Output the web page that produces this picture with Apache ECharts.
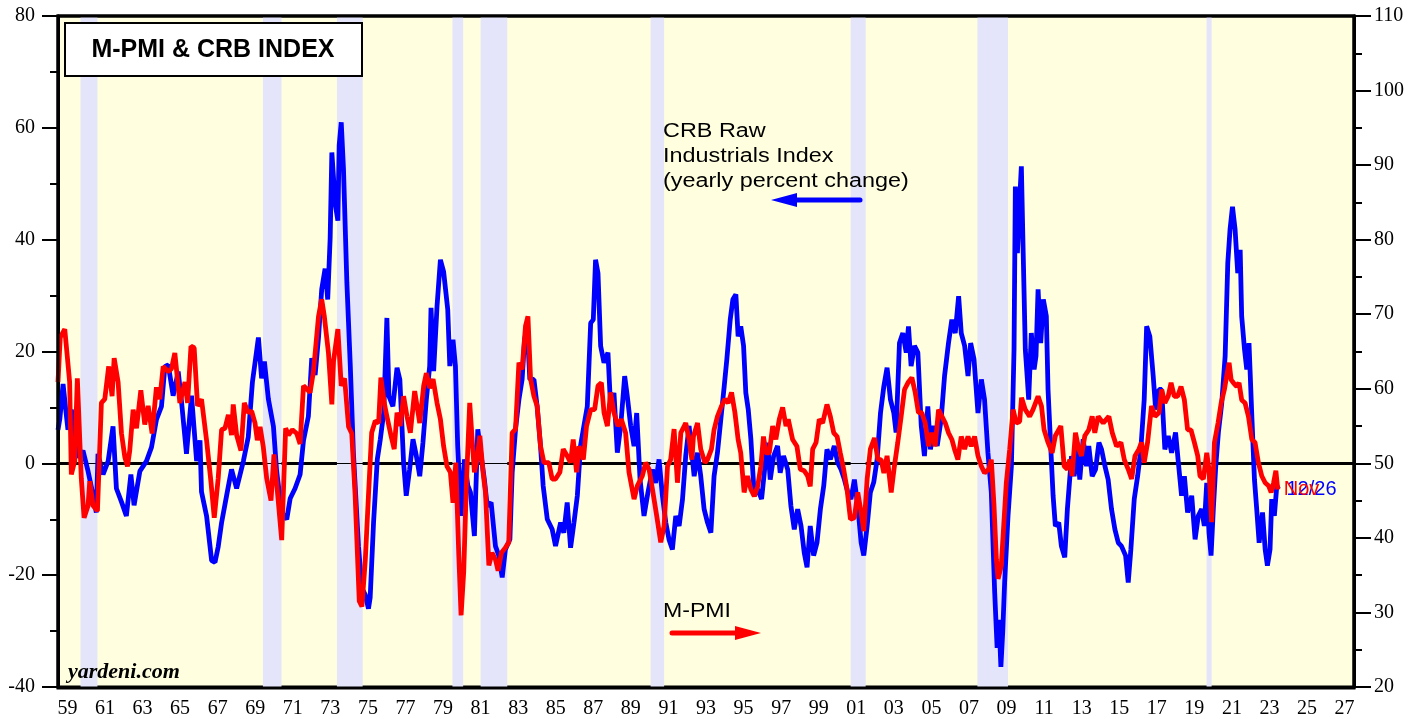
<!DOCTYPE html>
<html lang="en">
<head>
    <meta charset="UTF-8">
    <title>M-PMI & CRB INDEX</title>
    <style>
        html, body { margin: 0; padding: 0; background: #fff; }
        #main { width: 1424px; height: 719px; }
    </style>
    <script src="https://cdn.jsdelivr.net/npm/echarts@6/dist/echarts.min.js"></script>
</head>
<body>
<div id="main"></div>
<script>
    // x axis tick labels (every year, label on odd years)
    var yearLabels = [];
    for (var y = 1959; y <= 2027; y++) { yearLabels.push(String(y % 100).padStart(2, '0')); }

    // recessions (shaded)
    var recessionStarts = [1960.2, 1969.91, 1973.85, 1980.0, 1981.5, 1990.55, 2001.2, 2007.95, 2020.15];
    var recessionEnds   = [1961.1, 1970.9, 1975.22, 1980.57, 1982.92, 1991.27, 2002.0, 2009.58, 2020.42];

    // CRB raw industrials, yearly % change (left axis)
    var crbYears = [1959.0, 1959.1, 1959.27, 1959.4, 1959.53, 1959.71, 1959.98, 1960.15, 1960.33, 1960.6, 1960.87, 1961.04, 1961.13, 1961.4, 1961.67, 1961.93, 1962.11, 1962.38, 1962.64, 1962.88, 1963.05, 1963.36, 1963.71, 1963.98, 1964.24, 1964.51, 1964.69, 1964.87, 1965.13, 1965.4, 1965.58, 1965.84, 1966.11, 1966.38, 1966.56, 1966.64, 1966.91, 1967.18, 1967.36, 1967.53, 1967.71, 1967.98, 1968.24, 1968.51, 1968.87, 1969.13, 1969.35, 1969.67, 1969.84, 1969.99, 1970.2, 1970.47, 1970.64, 1970.91, 1971.18, 1971.36, 1971.62, 1971.89, 1972.07, 1972.33, 1972.51, 1972.69, 1972.87, 1973.04, 1973.22, 1973.36, 1973.49, 1973.58, 1973.76, 1973.9, 1973.97, 1974.08, 1974.2, 1974.38, 1974.56, 1974.73, 1975.0, 1975.18, 1975.36, 1975.53,
        1975.62, 1975.8, 1976.0, 1976.16, 1976.34, 1976.51, 1976.62, 1976.83, 1977.05, 1977.2, 1977.4, 1977.54, 1977.72, 1977.9, 1978.08, 1978.26, 1978.43, 1978.61, 1978.79, 1978.86, 1979.0, 1979.18, 1979.36, 1979.53, 1979.75, 1979.86, 1980.03, 1980.16, 1980.28, 1980.46, 1980.64, 1980.82, 1980.96, 1981.17, 1981.35, 1981.53, 1981.7, 1981.85, 1982.06, 1982.29, 1982.47, 1982.65, 1982.82, 1983.06, 1983.18, 1983.36, 1983.54, 1983.71, 1983.84, 1983.98, 1984.12, 1984.34, 1984.51, 1984.69, 1984.83, 1985.05, 1985.31, 1985.49, 1985.76, 1985.93, 1986.11, 1986.29, 1986.47, 1986.65, 1986.82, 1987.0, 1987.18, 1987.36, 1987.5, 1987.62, 1987.75, 1987.89, 1988.07, 1988.28, 1988.42, 1988.6, 1988.78, 1988.96, 1989.17, 1989.31, 1989.49, 1989.67, 1989.81, 1989.99, 1990.2, 1990.41, 1990.65, 1990.82, 1991.0, 1991.18, 1991.36, 1991.53, 1991.71, 1991.89, 1992.07, 1992.25, 1992.42, 1992.6,
        1992.87, 1993.05, 1993.22, 1993.4, 1993.58, 1993.76, 1993.93, 1994.11, 1994.29, 1994.47, 1994.61, 1994.79, 1994.93, 1995.09, 1995.21, 1995.35, 1995.5, 1995.62, 1995.75, 1995.89, 1996.07, 1996.25, 1996.46, 1996.64, 1996.78, 1996.92, 1997.1, 1997.31, 1997.45, 1997.63, 1997.85, 1998.02, 1998.2, 1998.38, 1998.56, 1998.73, 1998.88, 1999.05, 1999.23, 1999.41, 1999.59, 1999.77, 1999.94, 2000.12, 2000.33, 2000.51, 2000.69, 2000.87, 2001.05, 2001.22, 2001.4, 2001.58, 2001.76, 2001.9, 2002.08, 2002.25, 2002.43, 2002.61, 2002.79, 2002.97, 2003.14, 2003.32, 2003.5, 2003.62, 2003.8, 2003.98, 2004.16, 2004.28, 2004.42, 2004.6, 2004.78, 2004.96, 2005.13, 2005.31, 2005.45, 2005.63, 2005.81, 2006.02, 2006.2, 2006.41, 2006.59, 2006.77, 2006.95, 2007.09, 2007.27, 2007.45, 2007.59, 2007.77, 2007.98, 2008.16, 2008.33, 2008.51, 2008.69, 2008.87, 2009.0, 2009.1, 2009.2, 2009.3,
        2009.4, 2009.58, 2009.76, 2009.9, 2009.97, 2010.08, 2010.2, 2010.29, 2010.38, 2010.5, 2010.61, 2010.68, 2010.82, 2010.97, 2011.07, 2011.18, 2011.32, 2011.46, 2011.62, 2011.71, 2011.86, 2011.98, 2012.1, 2012.28, 2012.42, 2012.6, 2012.74, 2012.96, 2013.1, 2013.28, 2013.4, 2013.58, 2013.76, 2013.88, 2014.06, 2014.24, 2014.42, 2014.56, 2014.74, 2014.91, 2015.09, 2015.27, 2015.45, 2015.62, 2015.84, 2015.98, 2016.12, 2016.3, 2016.48, 2016.65, 2016.83, 2016.96, 2017.13, 2017.31, 2017.44, 2017.62, 2017.76, 2017.93, 2018.11, 2018.29, 2018.5, 2018.65, 2018.82, 2018.97, 2019.14, 2019.36, 2019.54, 2019.71, 2019.89, 2020.03, 2020.16, 2020.28, 2020.39, 2020.51, 2020.64, 2020.78, 2020.96, 2021.14, 2021.28, 2021.4, 2021.53, 2021.67, 2021.81, 2021.94, 2022.02, 2022.17, 2022.29, 2022.41, 2022.56, 2022.7, 2022.82, 2022.95, 2023.13, 2023.27, 2023.39, 2023.53, 2023.62, 2023.76, 2023.89, 2023.98];
    var crbValues = [6, 8, 14.2, 10, 6, 9.6, 2.9, 1, 2.3, -1.4, -5.7, -8.8, 1.7, -2, 0.4, 6.6, -4.5, -6.9, -9.4, -2, -7.5, -1.4, 0.4, 2.9, 7.8, 10.2, 17.3, 17.6, 12.1, 16.4, 10.9, 1.7, 12.1, 0.4, 4.1, -5.1, -9.4, -17.4, -17.7, -14.9, -10.6, -5.7, -1.1, -4.5, 0.4, 4.7, 14.5, 22.5, 15.2, 18.2, 11.5, 6.6, -1.4, -8.8, -10, -6.3, -4.5, -2, 4.1, 8.4, 18.8, 15.8, 22.5, 31.1, 34.8, 29.3, 40.3, 55.6, 46.4, 43.4, 56.9, 61, 52.6, 32.3, 17.6, 1.7, -14.9, -22.3, -23.5, -26,
        -24, -10.6, 0.7, 4.3, 9, 26, 12, 10.2, 17.1, 15, 0.1, -5.8, -1.1, 4.3, 1.3, -2.3, 3.7, 11.4, 17.4, 27.8, 16.5, 28.1, 36.4, 34.3, 27.5, 17.4, 22.1, 17.4, 3.1, -9.4, 0.7, -4, -5.2, -13, 6.1, 1.3, -2.9, -7.6, -7, -14.8, -16.5, -20.4, -15.4, -13.6, -1.7, 6.1, 11.4, 15, 22.1, 24.5, 15, 15, 10.2, 3.1, -4, -10, -11.8, -14.8, -10.6, -12.4, -7, -15.1, -10.6, -5.8, 3.1, 6.7, 10.2, 25.1, 25.7, 36.4, 34, 21, 18, 19.8, 10.2, 12.6, 1.9, 6.7, 15.6, 12, 6.7, 3.1, 9, -2.9, -9.4, -5.2, -1.1, -3.5, 0.7, -5.8, -10.6, -13.6, -15.4, -9.4, -11.2, -6.4, 1.3, 6.7,
        -2.3, 1.9, -2.3, -8.2, -10.6, -12.4, -2.3, 1.9, 7.9, 13.8, 18.6, 25.7, 29.3, 30.2, 22.7, 24.5, 21, 12.6, 9.6, 4.3, -5.8, -4.6, -6.4, -0.5, 3.7, -2.9, 1.3, 3.1, -1.7, 1.3, -1.1, -7.6, -11.8, -8.2, -11.2, -16, -18.6, -11.2, -16.5, -14.2, -8.2, -4, 2.5, 0.7, 3.1, 0.1, -1.1, -2.9, -5.2, -6.4, -2.9, -7.6, -14.2, -16.5, -11.2, -5.2, -3.4, 0.7, 9, 13.8, 17.1, 11.4, 9, 5.5, 21.5, 23.3, 19.8, 24.5, 17.4, 21, 19.8, 6.7, 1.3, 10.2, 2.5, 6.7, 3.1, 7.9, 15.6, 21.5, 25.7, 23.3, 29.9, 23.3, 21, 15.6, 21.5, 18.6, 9, 15, 11.4, 1.9, -5.2, -23.1, -33, -28, -36.4, -30,
        -21.3, -9.4, -0.5, 20.4, 49.5, 37.6, 47.1, 53.1, 38.8, 20.4, 15, 11.4, 23.3, 16.8, 19.2, 31.1, 21.5, 29.3, 26.3, 13.2, 2.5, -5.8, -11.2, -10.6, -14.8, -16.8, -8.2, 1.3, -2.3, 2.5, -2.9, 4.3, -0.5, 3.1, -2.3, -1.1, 3.7, 2.5, -0.5, -2.9, -8.2, -11.8, -14.2, -14.8, -16.5, -21.3, -15.4, -6.4, -2.3, 2.5, 11.4, 24.5, 22.7, 15.6, 9.6, 13.2, 13.2, 2.5, 4.9, 1.9, 5.5, 0.1, -5.8, -2.3, -8.8, -5.8, -13.6, -9.4, -8.2, -11.2, -3.5, -12.4, -16.5, -8.2, -0.5, 5.5, 10.8, 19.2, 35.8, 41.8, 45.9, 41.8, 34, 38.2, 26.3, 20.4, 16.8, 21.5, 8.5, -2.9, -8.2, -14.2, -8.8, -15.4, -18.3, -15.4, -6.4, -9.4, -4, -4.6];

    // ISM manufacturing PMI (right axis)
    var pmiYears = [1959.0, 1959.12, 1959.36, 1959.62, 1959.71, 1959.89, 1960.03, 1960.24, 1960.39, 1960.6, 1960.69, 1960.87, 1961.1, 1961.31, 1961.49, 1961.7, 1961.88, 1961.99, 1962.2, 1962.38, 1962.56, 1962.7, 1962.82, 1963.0, 1963.18, 1963.41, 1963.62, 1963.8, 1964.01, 1964.24, 1964.42, 1964.6, 1964.87, 1965.04, 1965.22, 1965.49, 1965.76, 1965.9, 1966.08, 1966.25, 1966.43, 1966.64, 1966.91, 1967.14, 1967.32, 1967.53, 1967.71, 1967.89, 1968.07, 1968.24, 1968.33, 1968.51, 1968.74, 1968.92, 1969.13, 1969.31, 1969.49, 1969.61, 1969.76, 1969.93, 1970.11, 1970.34, 1970.5, 1970.7, 1970.91, 1971.12, 1971.27, 1971.48, 1971.71, 1971.89, 1972.07, 1972.24, 1972.42, 1972.6, 1972.87, 1973.04, 1973.18, 1973.4, 1973.58, 1973.67, 1973.9, 1974.08, 1974.26, 1974.47, 1974.64, 1974.82, 1975.04, 1975.18, 1975.36, 1975.53,
        1975.7, 1975.89, 1976.07, 1976.19, 1976.37, 1976.51, 1976.73, 1976.9, 1977.05, 1977.22, 1977.4, 1977.58, 1977.76, 1977.99, 1978.26, 1978.47, 1978.61, 1978.79, 1978.97, 1979.18, 1979.36, 1979.53, 1979.71, 1979.89, 1980.03, 1980.18, 1980.34, 1980.46, 1980.6, 1980.74, 1980.92, 1981.05, 1981.17, 1981.31, 1981.46, 1981.63, 1981.76, 1981.94, 1982.11, 1982.29, 1982.43, 1982.61, 1982.82, 1983.0, 1983.18, 1983.36, 1983.54, 1983.71, 1983.89, 1984.02, 1984.16, 1984.34, 1984.51, 1984.69, 1984.87, 1985.13, 1985.31, 1985.49, 1985.72, 1985.9, 1986.11, 1986.29, 1986.43, 1986.61, 1986.74, 1986.97, 1987.14, 1987.36, 1987.57, 1987.75, 1987.93, 1988.07, 1988.25, 1988.42, 1988.6, 1988.81, 1988.99, 1989.22, 1989.4, 1989.67, 1989.85, 1990.11, 1990.29, 1990.47, 1990.65, 1990.88, 1991.09, 1991.27, 1991.45, 1991.62, 1991.8, 1991.98, 1992.16, 1992.42, 1992.6,
        1992.75, 1992.83, 1993.05, 1993.22, 1993.44, 1993.58, 1993.79, 1993.93, 1994.11, 1994.33, 1994.5, 1994.68, 1994.86, 1995.04, 1995.21, 1995.35, 1995.53, 1995.71, 1995.89, 1996.07, 1996.25, 1996.42, 1996.56, 1996.69, 1996.87, 1997.05, 1997.22, 1997.4, 1997.58, 1997.76, 1997.88, 1998.11, 1998.34, 1998.52, 1998.73, 1998.91, 1999.05, 1999.18, 1999.36, 1999.53, 1999.71, 1999.94, 2000.12, 2000.3, 2000.48, 2000.65, 2000.83, 2001.01, 2001.19, 2001.4, 2001.58, 2001.76, 2001.9, 2002.08, 2002.25, 2002.47, 2002.65, 2002.82, 2002.97, 2003.14, 2003.36, 2003.53, 2003.71, 2003.89, 2004.07, 2004.25, 2004.46, 2004.64, 2004.81, 2004.99, 2005.17, 2005.35, 2005.52, 2005.7, 2005.88, 2006.06, 2006.24, 2006.41, 2006.59, 2006.73, 2006.91, 2007.09, 2007.27, 2007.45, 2007.62, 2007.8, 2007.98, 2008.16, 2008.33, 2008.55, 2008.69, 2008.83, 2008.96, 2009.05, 2009.22,
        2009.49, 2009.67, 2009.85, 2010.02, 2010.2, 2010.3, 2010.5, 2010.73, 2010.91, 2011.18, 2011.36, 2011.5, 2011.71, 2011.93, 2012.1, 2012.39, 2012.57, 2012.74, 2012.87, 2012.99, 2013.17, 2013.35, 2013.49, 2013.67, 2013.88, 2014.06, 2014.2, 2014.38, 2014.65, 2014.95, 2015.13, 2015.36, 2015.59, 2015.77, 2015.98, 2016.16, 2016.34, 2016.55, 2016.69, 2016.83, 2017.01, 2017.22, 2017.4, 2017.62, 2017.76, 2017.93, 2018.11, 2018.26, 2018.43, 2018.61, 2018.79, 2018.97, 2019.14, 2019.32, 2019.5, 2019.68, 2019.8, 2019.98, 2020.16, 2020.28, 2020.42, 2020.57, 2020.76, 2020.93, 2021.1, 2021.22, 2021.35, 2021.46, 2021.58, 2021.76, 2021.88, 2022.02, 2022.2, 2022.38, 2022.56, 2022.73, 2022.91, 2023.09, 2023.27, 2023.45, 2023.59, 2023.72, 2023.84, 2023.94];
    var pmiValues = [60.9, 66.9, 68, 60.9, 48.5, 50.3, 61.4, 48, 42.7, 44.3, 47.6, 44.3, 43.6, 58.1, 58.6, 63, 59, 64.1, 60.9, 54, 50.8, 49.6, 51.7, 57.2, 54.7, 59.8, 55.2, 57.7, 54, 60.2, 58.6, 63, 62.3, 62.7, 64.8, 58.1, 60.9, 58.1, 65.7, 65.5, 57.7, 58.6, 53.1, 47.6, 42.7, 48, 54.5, 54.7, 56.5, 53.8, 57.9, 53.8, 51.7, 58.1, 56.8, 57, 55.4, 53.1, 54.9, 52.2, 48, 45, 51.2, 45.7, 39.7, 54.7, 53.8, 54.5, 54, 52.6, 60.4, 60, 59.5, 62.3, 69.7, 72, 69.7, 64.8, 57.9, 63.7, 68, 60.4, 61.4, 54.9, 54, 45.7, 31.5, 30.8, 37, 45.7,
        54.1, 55.7, 55.4, 61.5, 58.1, 56.3, 53.7, 51.9, 56.8, 55, 59, 56.3, 54.1, 59.7, 55.4, 60.4, 62.1, 60.1, 61.3, 58.1, 55.9, 52.3, 49.6, 48.8, 44.7, 50.1, 37.6, 29.6, 35.4, 47, 58.1, 53.2, 48.8, 50.5, 53.7, 48.8, 46.1, 36.3, 38, 37.1, 35.6, 38, 38.7, 39.4, 54.1, 54.6, 63.5, 62.6, 68.4, 69.7, 61.3, 59, 57.7, 52.3, 50.1, 50.1, 47.9, 47.9, 48.8, 51.9, 51, 50.1, 53.2, 48.8, 52.3, 50.5, 55, 57.2, 57.2, 60.4, 60.8, 56.8, 55, 59.5, 56.8, 55, 55.9, 54.1, 48.8, 45.2, 47, 48.3, 50.1, 49.2, 46.5, 42.9, 39.4, 41.6, 49.6, 50.5, 54.6, 47.4, 54.1, 55.4, 53.2,
        50.5, 53.6, 55.4, 51.9, 50.1, 50.5, 51.9, 54.5, 56.3, 57.7, 58.6, 58.1, 59.5, 56.8, 53.2, 51.4, 46.1, 48.3, 46.5, 45.6, 46.9, 49.6, 53.6, 51.4, 51.4, 55, 53.2, 55.9, 57.5, 55, 55.9, 53.2, 52.3, 49.2, 49, 48.3, 46.9, 51.9, 52.8, 55.9, 55.4, 57.9, 56.3, 54.1, 53.6, 51.4, 49.2, 46.5, 42.5, 42.7, 46.1, 43.4, 40.9, 47.9, 51.9, 53.4, 50.5, 50.5, 48.7, 51, 46.1, 49.6, 52.8, 56.3, 59.9, 60.8, 61.5, 59.5, 56.8, 56.8, 55.4, 52.3, 54.1, 52.3, 57.2, 56.3, 55.4, 54.1, 53.2, 51.9, 50.5, 53.6, 51.9, 53.6, 52.3, 53.6, 51, 49.6, 48.7, 49.2, 50.5, 44.5, 37.1, 34.5, 36.2,
        47.4, 51.9, 57.2, 55.4, 55.6, 58.8, 57.2, 56.3, 57.2, 59, 57.7, 54.5, 52.8, 51.4, 53.7, 55, 49.6, 49.2, 50.5, 48.3, 54.1, 51.9, 51, 53.7, 54.5, 56.3, 54.1, 56.3, 55.4, 56.3, 54.1, 52.3, 52.8, 50.5, 49.2, 47.9, 51, 51.9, 52.8, 50.1, 52.8, 57.7, 56.3, 56.8, 59.9, 58.1, 59, 60.8, 59, 59, 60.3, 58.5, 54.5, 54.5, 52.8, 51, 48.3, 47.9, 51.4, 49.2, 42.1, 52.8, 55.4, 58.1, 59.9, 61.7, 63.5, 61.2, 60.8, 60.3, 60.8, 58.5, 58.1, 56.3, 53.2, 52.8, 50.1, 48.3, 47.4, 47, 46.1, 47.4, 49, 46.5];

    var crbData = crbYears.map(function (t, i) { return [t, crbValues[i]]; });
    var pmiData = pmiYears.map(function (t, i) { return [t, pmiValues[i]]; });
    var recessionAreas = recessionStarts.map(function (s, i) {
        return [{ xAxis: s }, { xAxis: recessionEnds[i] }];
    });

    var serifLabel = { color: '#000', fontFamily: 'Liberation Serif', fontSize: 20 };

    var chartDom = document.getElementById('main');
    var myChart = echarts.init(chartDom);

    let option = {
        animation: false,
        grid: {
            left: 58, right: 70, top: 16, bottom: 31,
            show: true,
            backgroundColor: '#ffffe0',
            borderColor: '#000',
            borderWidth: 3
        },
        xAxis: [
            {
                type: 'category',
                data: yearLabels,
                boundaryGap: true,
                axisLine: { lineStyle: { color: '#000', width: 3 } },
                axisTick: { interval: 0, length: 8, lineStyle: { color: '#000', width: 2 } },
                axisLabel: Object.assign({ interval: 1, margin: 12 }, serifLabel),
                splitLine: { show: false }
            },
            {
                type: 'value',
                min: 1959,
                max: 2028,
                show: false
            }
        ],
        yAxis: [
            {
                type: 'value',
                position: 'left',
                min: -40,
                max: 80,
                interval: 20,
                axisLine: { show: true, lineStyle: { color: '#000', width: 3 } },
                axisTick: { show: true, length: 16, lineStyle: { color: '#000', width: 2 } },
                minorTick: { show: true, splitNumber: 2, length: 8, lineStyle: { color: '#000', width: 2 } },
                axisLabel: Object.assign({ margin: 23 }, serifLabel),
                splitLine: { show: false }
            },
            {
                type: 'value',
                position: 'right',
                min: 20,
                max: 110,
                interval: 10,
                axisLine: { show: true, lineStyle: { color: '#000', width: 3 } },
                axisTick: { show: true, length: 17, lineStyle: { color: '#000', width: 2 } },
                minorTick: { show: true, splitNumber: 2, length: 8, lineStyle: { color: '#000', width: 2 } },
                axisLabel: Object.assign({ margin: 20 }, serifLabel),
                splitLine: { show: false }
            }
        ],
        series: [
            {
                // recession shading + zero line
                name: 'bands',
                type: 'line',
                xAxisIndex: 1,
                yAxisIndex: 0,
                data: [],
                silent: true,
                z: 1,
                markArea: {
                    silent: true,
                    z: 1,
                    itemStyle: { color: '#e4e4fa' },
                    data: recessionAreas
                },
                markLine: {
                    silent: true,
                    z: 1,
                    symbol: 'none',
                    label: { show: false },
                    lineStyle: { color: '#000', width: 1, type: 'solid' },
                    data: [{ yAxis: 0 }]
                }
            },
            {
                name: 'CRB',
                type: 'line',
                z: 10,
                xAxisIndex: 1,
                yAxisIndex: 0,
                data: crbData,
                showSymbol: false,
                lineStyle: { color: '#0000ff', width: 4.8 },
                itemStyle: { color: '#0000ff' },
                endLabel: {
                    show: true,
                    formatter: '12/26',
                    distance: 8,
                    color: '#0000ff',
                    fontFamily: 'Liberation Sans',
                    fontSize: 20
                }
            },
            {
                name: 'M-PMI',
                type: 'line',
                z: 11,
                xAxisIndex: 1,
                yAxisIndex: 1,
                data: pmiData,
                showSymbol: false,
                lineStyle: { color: '#ff0000', width: 4.8 },
                itemStyle: { color: '#ff0000' },
                endLabel: {
                    show: true,
                    formatter: 'Nov',
                    distance: 6,
                    color: '#ff0000',
                    fontFamily: 'Liberation Sans',
                    fontSize: 20
                }
            }
        ],
        graphic: [
            // plot frame (kept above the shaded bands)
            {
                type: 'rect', z: 90,
                shape: { x: 58, y: 16, width: 1296, height: 672 },
                style: { fill: null, stroke: '#000', lineWidth: 3 }
            },
            // title box
            {
                type: 'rect', z: 100,
                shape: { x: 65, y: 23, width: 297, height: 53 },
                style: { fill: '#fff', stroke: '#000', lineWidth: 2 }
            },
            {
                type: 'text', z: 101, x: 213, y: 50,
                style: {
                    text: 'M-PMI & CRB INDEX', font: 'bold 25px "Liberation Sans", Arial', fill: '#000',
                    align: 'center', verticalAlign: 'middle', textAlign: 'center', textVerticalAlign: 'middle'
                }
            },
            // CRB annotation
            {
                type: 'text', z: 101, x: 663, y: 131, scaleX: 1.17,
                style: { text: 'CRB Raw', font: '20px "Liberation Sans", Arial', fill: '#000', verticalAlign: 'middle', textVerticalAlign: 'middle' }
            },
            {
                type: 'text', z: 101, x: 663, y: 156, scaleX: 1.17,
                style: { text: 'Industrials Index', font: '20px "Liberation Sans", Arial', fill: '#000', verticalAlign: 'middle', textVerticalAlign: 'middle' }
            },
            {
                type: 'text', z: 101, x: 663, y: 181, scaleX: 1.17,
                style: { text: '(yearly percent change)', font: '20px "Liberation Sans", Arial', fill: '#000', verticalAlign: 'middle', textVerticalAlign: 'middle' }
            },
            {
                type: 'polyline', z: 101,
                shape: { points: [[792, 200], [860, 200]] },
                style: { stroke: '#0000ff', lineWidth: 5, lineCap: 'round' }
            },
            {
                type: 'polygon', z: 101,
                shape: { points: [[771, 200], [797, 193], [797, 207]] },
                style: { fill: '#0000ff' }
            },
            // M-PMI annotation
            {
                type: 'text', z: 101, x: 663, y: 611, scaleX: 1.1,
                style: { text: 'M-PMI', font: '21px "Liberation Sans", Arial', fill: '#000', verticalAlign: 'middle', textVerticalAlign: 'middle' }
            },
            {
                type: 'polyline', z: 101,
                shape: { points: [[672, 633], [740, 633]] },
                style: { stroke: '#ff0000', lineWidth: 5, lineCap: 'round' }
            },
            {
                type: 'polygon', z: 101,
                shape: { points: [[761, 633], [735, 626], [735, 640]] },
                style: { fill: '#ff0000' }
            },
            // source
            {
                type: 'text', z: 101, x: 68, y: 672,
                style: { text: 'yardeni.com', font: 'italic bold 22px "Liberation Serif", serif', fill: '#000', verticalAlign: 'middle', textVerticalAlign: 'middle' }
            }
        ]
    };

    myChart.setOption(option);
</script>
</body>
</html>
